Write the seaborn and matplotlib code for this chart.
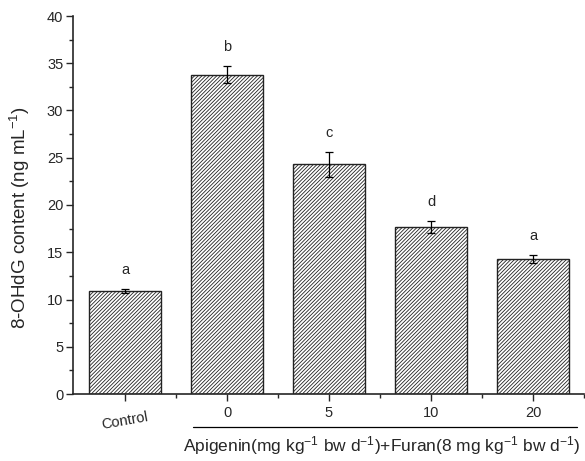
import matplotlib
matplotlib.use("Agg")
import matplotlib.pyplot as plt
import seaborn as sns
import pandas as pd
from matplotlib.ticker import MultipleLocator

categories = ["Control", "0", "5", "10", "20"]
values = [10.9, 33.8, 24.3, 17.7, 14.3]
errors = [0.25, 0.9, 1.3, 0.65, 0.45]
letters = ["a", "b", "c", "d", "a"]

sns.set_style("ticks")
plt.rcParams['font.family'] = ['Liberation Sans', 'DejaVu Sans']
plt.rcParams['mathtext.fontset'] = 'custom'
plt.rcParams['mathtext.rm'] = 'Liberation Sans'
plt.rcParams['mathtext.it'] = 'Liberation Sans'
plt.rcParams['mathtext.default'] = 'regular'
plt.rcParams['hatch.linewidth'] = 0.6

df = pd.DataFrame({"group": categories, "value": values})

fig = plt.figure(figsize=(5.85, 4.61), dpi=100)
ax = fig.add_axes([73/585, 67/461, 511/585, 378/461])

sns.barplot(data=df, x="group", y="value", order=categories, color="white",
            edgecolor="black", linewidth=1.0, width=0.7, ax=ax, errorbar=None,
            saturation=1)
for p in ax.patches:
    p.set_hatch("/" * 9)
    p.set_facecolor("white")
    p.set_edgecolor("#222222")

xs = list(range(len(categories)))
ax.errorbar(xs, values, yerr=errors, fmt="none", ecolor="black",
            elinewidth=0.9, capsize=3, capthick=0.9)
for x, v, e, l in zip(xs, values, errors, letters):
    ax.text(x, v + e + 2.0, l, ha="center", va="center", fontsize=10.5)

ax.set_ylim(0, 40)
ax.set_xlim(-0.51, 4.5)
ax.yaxis.set_major_locator(MultipleLocator(5))
ax.yaxis.set_minor_locator(MultipleLocator(2.5))
ax.set_xticks(xs)
ax.set_xticks([x + 0.5 for x in xs], minor=True)
ax.set_xticklabels([])
ax.tick_params(axis="both", which="major", direction="out", length=5, width=1,
               labelsize=10.5, pad=2)
ax.tick_params(axis="both", which="minor", direction="out", length=3, width=1)
for s in ["top", "right"]:
    ax.spines[s].set_visible(False)
for s in ["left", "bottom"]:
    ax.spines[s].set_linewidth(1.2)

ax.set_xlabel("")
ax.set_ylabel("8-OHdG content (ng mL$^{-1}$)", fontsize=13.5)
ax.yaxis.set_label_coords(-0.08, 0.466)

# category labels
for x, c in zip(xs, categories):
    if c == "Control":
        ax.text(x, -0.07, c, transform=ax.get_xaxis_transform(), ha="center",
                va="center", fontsize=10.5, rotation=10)
    else:
        ax.text(x, -0.051, c, transform=ax.get_xaxis_transform(), ha="center",
                va="center", fontsize=10.5)

# group line and label
ax.plot([0.67, 4.43], [-0.087, -0.087], transform=ax.get_xaxis_transform(),
        color="black", lw=0.9, clip_on=False)
ax.text(2.52, -0.137, "Apigenin(mg kg$^{-1}$ bw d$^{-1}$)+Furan(8 mg kg$^{-1}$ bw d$^{-1}$)",
        transform=ax.get_xaxis_transform(), ha="center", va="center", fontsize=12.5)

fig.savefig("out.png", dpi=100)
